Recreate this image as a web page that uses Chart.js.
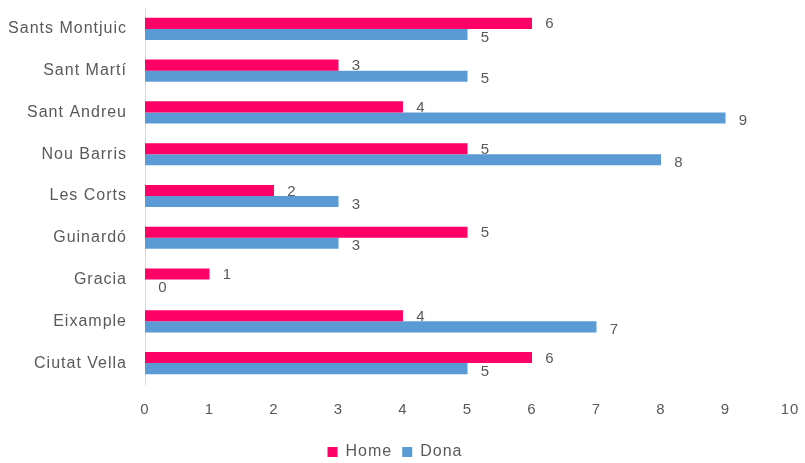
<!DOCTYPE html>
<html>
<head>
<meta charset="utf-8">
<script src="https://cdn.jsdelivr.net/npm/chart.js@4"></script>
<style>
  html, body { margin: 0; padding: 0; background: #fff; }
  #wrap { width: 805px; height: 463px; }
</style>
</head>
<body>
<div id="wrap"><canvas id="districtChart" width="805" height="463"></canvas></div>
<script>
const districts = ["Sants Montjuic", "Sant Martí", "Sant Andreu", "Nou Barris", "Les Corts", "Guinardó", "Gracia", "Eixample", "Ciutat Vella"];
const homeValues = [6, 3, 4, 5, 2, 5, 1, 4, 6];
const donaValues = [5, 5, 9, 8, 3, 3, 0, 7, 5];
const xTicks = [0, 1, 2, 3, 4, 5, 6, 7, 8, 9, 10];

const textGrey = "#595959";
const fontFamily = "'Liberation Sans', Arial, sans-serif";

// slightly wider text, like the original
const spacing = {
  id: "spacing",
  beforeLayout(chart) { chart.ctx.letterSpacing = "1px"; },
  beforeDraw(chart) { chart.ctx.letterSpacing = "1px"; }
};

// value labels to the right of each bar
const barLabels = {
  id: "barLabels",
  afterDatasetsDraw(chart) {
    const ctx = chart.ctx;
    ctx.save();
    ctx.fillStyle = textGrey;
    ctx.font = "15px " + fontFamily;
    ctx.textAlign = "center";
    ctx.textBaseline = "middle";
    chart.data.datasets.forEach((ds, i) => {
      const meta = chart.getDatasetMeta(i);
      meta.data.forEach((bar, j) => {
        const dy = i === 0 ? 1 : 3;
        ctx.fillText(String(ds.data[j]), bar.x + 18, bar.y + dy);
      });
    });
    ctx.restore();
  }
};

new Chart(document.getElementById("districtChart"), {
  type: "bar",
  data: {
    labels: districts,
    datasets: [
      { label: "Home", data: homeValues, backgroundColor: "#FF0066", categoryPercentage: 0.53, barPercentage: 1 },
      { label: "Dona", data: donaValues, backgroundColor: "#5B9BD5", categoryPercentage: 0.53, barPercentage: 1 }
    ]
  },
  options: {
    indexAxis: "y",
    responsive: false,
    animation: false,
    layout: { padding: { top: 8, right: 15, left: 0, bottom: -7 } },
    plugins: {
      legend: {
        position: "bottom",
        labels: {
          boxWidth: 10,
          boxHeight: 10,
          padding: 10,
          color: textGrey,
          font: { size: 16, family: fontFamily }
        }
      },
      tooltip: { enabled: false }
    },
    scales: {
      x: {
        min: 0,
        max: 10,
        afterBuildTicks: s => { s.ticks = xTicks.map(v => ({ value: v })); },
        afterFit: s => { s.height = 50; s.paddingLeft = 0; s.paddingRight = 0; },
        grid: { display: false, drawTicks: false },
        border: { display: false },
        ticks: { padding: 17, color: textGrey, font: { size: 15, family: fontFamily } }
      },
      y: {
        afterFit: s => { s.width = 145; s.paddingTop = 0; s.paddingBottom = 0; },
        grid: { display: false, drawTicks: false },
        border: { display: true, color: "#d9d9d9", width: 1 },
        ticks: { padding: 18, color: textGrey, font: { size: 16, family: fontFamily } }
      }
    }
  },
  plugins: [spacing, barLabels]
});
</script>
</body>
</html>
